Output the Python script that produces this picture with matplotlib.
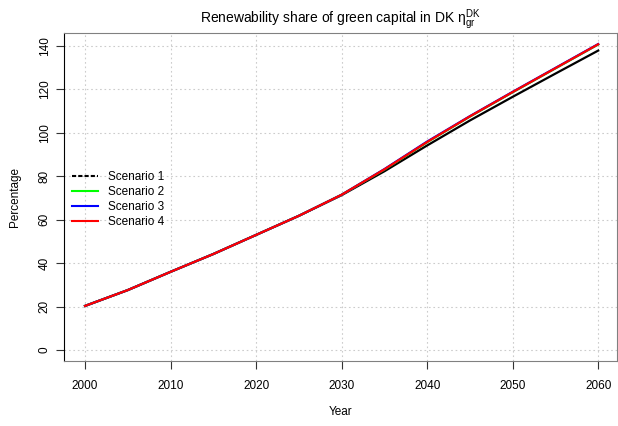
import numpy as np
import matplotlib
matplotlib.use("Agg")
import matplotlib.pyplot as plt
from matplotlib.lines import Line2D

plt.rcParams['font.family'] = ['Liberation Sans', 'DejaVu Sans']
plt.rcParams['mathtext.fontset'] = 'custom'
plt.rcParams['mathtext.rm'] = 'Liberation Sans'
plt.rcParams['mathtext.it'] = 'Liberation Sans'

# values (percentage)
years = [2000, 2005, 2010, 2015, 2020, 2025, 2030, 2035, 2040, 2045, 2050, 2055, 2060]
scenario1 = [20.3, 27.6, 36.0, 44.2, 53.0, 61.8, 71.3, 82.3, 94.2, 105.7, 116.6, 127.3, 137.9]
scenario2 = [20.3, 27.6, 36.0, 44.2, 53.0, 61.8, 71.5, 83.1, 95.7, 107.5, 118.7, 129.7, 140.7]
scenario3 = [20.3, 27.6, 36.0, 44.2, 53.0, 61.8, 71.5, 83.3, 96.0, 107.7, 118.9, 129.9, 140.9]
scenario4 = [20.3, 27.6, 36.0, 44.2, 53.0, 61.8, 71.5, 83.2, 95.8, 107.6, 118.8, 129.8, 140.8]

labels = ["Scenario 1", "Scenario 2", "Scenario 3", "Scenario 4"]
colors = ["black", "#00ff00", "blue", "red"]

fig = plt.figure(figsize=(6.18, 4.26), dpi=100)
ax = fig.add_axes([64/618, 1-361/426, (617-64)/618, (361-33)/426])

for vals, col in zip([scenario1, scenario2, scenario3, scenario4], colors):
    ax.plot(years, vals, color=col, lw=1.6)

ax.set_xlim(1997.54, 2062.2)
ax.set_ylim(-5.07, 146.0)
ax.set_xticks(range(2000, 2061, 10))
ax.set_yticks(range(0, 141, 20))
ax.grid(True, color="#cccccc", linestyle=(0, (1.5, 2.5)), lw=0.8)

for side in ["top", "right", "bottom"]:
    ax.spines[side].set_color("#808080")
ax.spines["left"].set_color("black")
ax.tick_params(axis="both", length=6, labelsize=8.5, color="#333333")
ax.tick_params(axis="x", pad=8)
plt.setp(ax.get_yticklabels(), rotation=90, va="center")

ax.set_xlabel("Year", fontsize=8.5, labelpad=10)
ax.set_ylabel("Percentage", fontsize=8.5, labelpad=12.5)
ax.set_title(r"Renewability share of green capital in DK $\eta_{gr}^{DK}$", fontsize=10, pad=7)

handles = [Line2D([], [], color="black", lw=1.5, ls=(0, (2, 1))),
           Line2D([], [], color="#00ff00", lw=1.5),
           Line2D([], [], color="blue", lw=1.5),
           Line2D([], [], color="red", lw=1.5)]
ax.legend(handles, labels, loc="upper left", bbox_to_anchor=(0.0, 0.605), frameon=False,
          fontsize=8.5, handlelength=2.2, labelspacing=0.25, borderaxespad=0.3)

fig.savefig("out.png", dpi=100)
